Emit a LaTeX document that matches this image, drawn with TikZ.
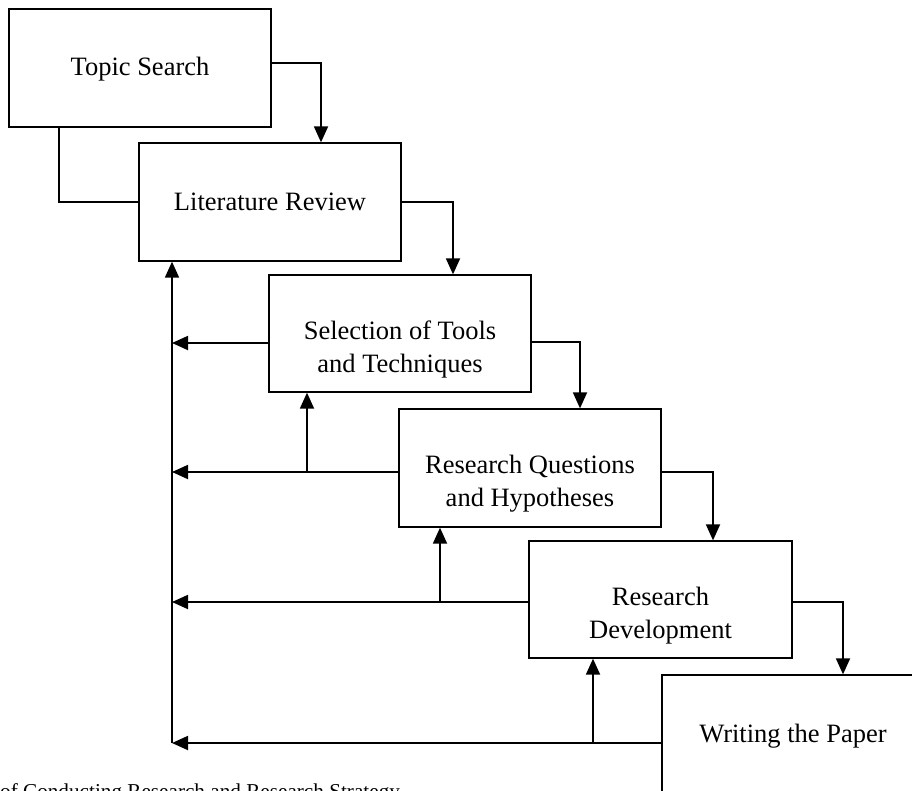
\documentclass[tikz,border=0pt]{standalone}
\usepackage{fontspec}
\setmainfont{Liberation Serif}
\usetikzlibrary{arrows.meta,calc}
\begin{document}
\begin{tikzpicture}[x=1pt,y=-1pt,
  box/.style={draw=black,line width=1.3pt,minimum width=262pt,minimum height=118pt,inner sep=0pt,fill=white},
  txt/.style={align=center,font=\fontsize{26.5}{33}\selectfont,inner sep=0pt},
  arr/.style={line width=1.8pt,-{Triangle[length=16pt,width=14pt]}},
  plain/.style={line width=1.3pt}]
\useasboundingbox (0,0) rectangle (912,790);
\clip (0,0) rectangle (912,790);
% boxes
\node[box] (b1) at (140,68) {};
\node[box] (b2) at (270,202) {};
\node[box,minimum height=117pt] (b3) at (400,333.5) {};
\node[box] (b4) at (530,468) {};
\node[box,minimum width=263pt,minimum height=117pt] (b5) at (660.5,599.5) {};
\node[box] (b6) at (793,734) {};
% texts (base = baseline of the last line)
\node[txt,anchor=base] (t1) at (140,75) {Topic Search};
\node[txt,anchor=base] (t2) at (270,210) {Literature Review};
\node[txt,anchor=base] (t3) at (400,372) {Selection of Tools\\and Techniques};
\node[txt,anchor=base] (t4) at (530,506) {Research Questions\\and Hypotheses};
\node[txt,anchor=base] (t5) at (660.5,638) {Research\\Development};
\node[txt,anchor=base] (t6) at (793,742) {Writing the Paper};
% caption (cut off at bottom edge, as in the reference)
\node[anchor=base west,inner sep=0pt,font=\fontsize{21.2}{25}\selectfont] (cap) at (0,798) {of Conducting Research and Research Strategy};
% feedback junctions
\coordinate (j3) at (172,343);
\coordinate (j4) at (172,472);
\coordinate (j5) at (172,602);
\coordinate (j6) at (172,743);
\coordinate (u4) at (307,472);
\coordinate (u5) at (440,602);
\coordinate (u6) at (593,743);
% forward connectors
\draw[arr] (b1.east |- 0,63) -| (321,0 |- b2.north);
\draw[plain] (59,0 |- b1.south) |- (b2.west);
\draw[arr] (b2.east) -| (453,0 |- b3.north);
\draw[arr] (b3.east |- 0,342) -| (580,0 |- b4.north);
\draw[arr] (b4.east |- 0,472) -| (713,0 |- b5.north);
\draw[arr] (b5.east |- 0,602) -| (843,0 |- b6.north);
% feedback connectors
\draw[arr] (j6) -- (j6 |- b2.south);
\draw[arr] (b3.west |- j3) -- (j3);
\draw[arr] (b4.west |- j4) -- (j4);
\draw[arr] (b5.west |- j5) -- (j5);
\draw[arr] (b6.west |- j6) -- (j6);
\draw[arr] (u4) -- (u4 |- b3.south);
\draw[arr] (u5) -- (u5 |- b4.south);
\draw[arr] (u6) -- (u6 |- b5.south);
\end{tikzpicture}
\end{document}
